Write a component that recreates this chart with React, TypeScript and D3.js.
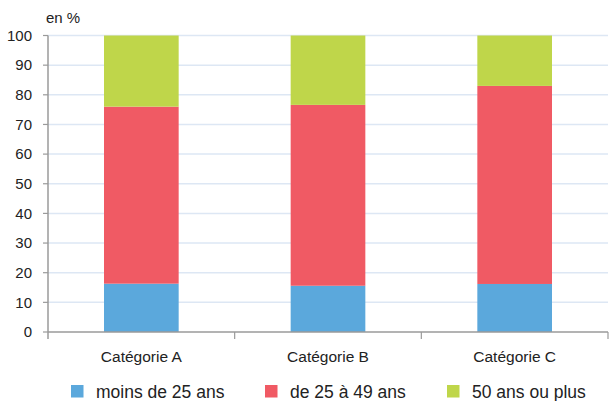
import React from "react";
import * as d3 from "d3";

const categories = ["Catégorie A", "Catégorie B", "Catégorie C"];
const seriesNames = ["moins de 25 ans", "de 25 à 49 ans", "50 ans ou plus"];
const under25 = [16.3, 15.6, 16.2];
const from25to49 = [59.7, 61.0, 66.8];
const over50 = [24.0, 23.4, 17.0];
const yTicks = [0, 10, 20, 30, 40, 50, 60, 70, 80, 90, 100];
const colors = ["#5ba8dc", "#f05a64", "#bfd64a"];

const W = 611, H = 401;
const left = 48, right = 608, top = 35.5, bottom = 332;

export default function App() {
  const x = d3.scaleBand<string>().domain(categories).range([left, right]).paddingInner(0.6).paddingOuter(0.3);
  const xOuter = d3.scaleBand<string>().domain(categories).range([left, right]);
  const y = d3.scaleLinear().domain([0, 100]).range([bottom, top]);
  const rows = categories.map((c, i) => ({ cat: c, a: under25[i], b: from25to49[i], c: over50[i] }));
  const stack = d3.stack<any>().keys(["a", "b", "c"])(rows);
  const font = "'Liberation Sans', Arial, Helvetica, sans-serif";
  const legendX = [71, 265, 447];
  return (
    <svg width={W} height={H} style={{ position: "absolute", left: 0, top: 0 }} fontFamily={font}>
      <rect width={W} height={H} fill="#fff" />
      {yTicks.slice(1).map(t => (
        <line key={t} x1={left} x2={right} y1={y(t)} y2={y(t)} stroke="#dde7f4" strokeWidth={1.5} />
      ))}
      {stack.map((s, si) => s.map((d, i) => (
        <rect key={si + "-" + i} x={x(categories[i])} width={x.bandwidth()} y={y(d[1])} height={y(d[0]) - y(d[1])} fill={colors[si]} />
      )))}
      <line x1={left} x2={left} y1={top} y2={bottom + 7} stroke="#9a9a9a" strokeWidth={1.5} />
      <line x1={left} x2={right} y1={bottom} y2={bottom} stroke="#9a9a9a" strokeWidth={1.5} />
      {yTicks.map(t => (
        <g key={t}>
          <line x1={left - 5} x2={left} y1={y(t)} y2={y(t)} stroke="#9a9a9a" strokeWidth={1.2} />
          <text x={32} y={y(t)} dy="0.35em" textAnchor="end" fontSize={15} fill="#222">{t}</text>
        </g>
      ))}
      {categories.map(c => (
        <g key={c}>
          <line x1={(xOuter(c) as number) + xOuter.bandwidth()} x2={(xOuter(c) as number) + xOuter.bandwidth()} y1={bottom} y2={bottom + 7} stroke="#9a9a9a" strokeWidth={1.2} />
          <text x={(x(c) as number) + x.bandwidth() / 2} y={362} textAnchor="middle" fontSize={15.5} fill="#222">{c}</text>
        </g>
      ))}
      <text x={46} y={23} fontSize={15} fill="#222">en %</text>
      {seriesNames.map((n, i) => (
        <g key={n}>
          <rect x={legendX[i]} y={385} width={12.5} height={12.5} fill={colors[i]} />
          <text x={legendX[i] + 25} y={397.5} fontSize={17.5} fill="#222">{n}</text>
        </g>
      ))}
    </svg>
  );
}
